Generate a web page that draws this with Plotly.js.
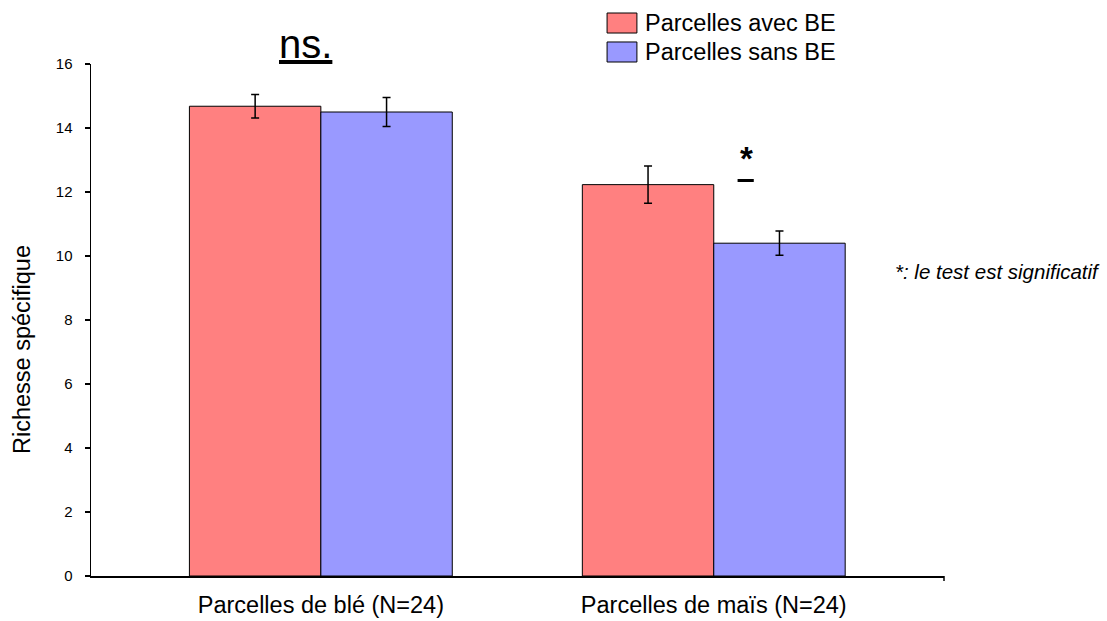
<!DOCTYPE html>
<html>
<head>
<meta charset="utf-8">
<script src="https://cdn.plot.ly/plotly-3.0.1.min.js"></script>
<style>html,body{margin:0;padding:0;background:#fff;}#chart{width:1107px;height:621px;}</style>
</head>
<body>
<div id="chart"></div>
<script>
const categories = ["Parcelles de blé (N=24)", "Parcelles de maïs (N=24)"];
const seriesNames = ["Parcelles avec BE", "Parcelles sans BE"];
const avecBE = [14.68, 12.23];
const avecBEerr = [0.37, 0.58];
const sansBE = [14.50, 10.40];
const sansBEerr = [0.45, 0.38];
const yTicks = [0, 2, 4, 6, 8, 10, 12, 14, 16];
const colors = ["#FF8080", "#9999FF"];

const FONT = "Liberation Sans, Arial, sans-serif";

const traces = [
  {
    type: "bar", name: seriesNames[0], x: categories, y: avecBE,
    marker: {color: colors[0], line: {color: "#000", width: 1}},
    error_y: {type: "data", array: avecBEerr, visible: true, color: "#000", thickness: 1.5, width: 4},
    showlegend: false
  },
  {
    type: "bar", name: seriesNames[1], x: categories, y: sansBE,
    marker: {color: colors[1], line: {color: "#000", width: 1}},
    error_y: {type: "data", array: sansBEerr, visible: true, color: "#000", thickness: 1.5, width: 4},
    showlegend: false
  }
];

const layout = {
  width: 1107, height: 621,
  margin: {l: 91, r: 163, t: 64, b: 45},
  paper_bgcolor: "#fff", plot_bgcolor: "#fff",
  font: {family: FONT, color: "#000"},
  barmode: "group",
  bargap: 0.331, bargroupgap: 0,
  xaxis: {
    type: "category", range: [-0.585, 1.586],
    showline: true, linecolor: "#000", linewidth: 1.5,
    ticks: "", showgrid: false, zeroline: false,
    ticklabelstandoff: 7,
    tickfont: {size: 23.5, family: FONT}
  },
  yaxis: {
    range: [0, 16], tickvals: yTicks, ticktext: yTicks.map(String),
    showline: true, linecolor: "#000", linewidth: 1.5,
    ticks: "outside", ticklen: 5, tickcolor: "#000", tickwidth: 1.5,
    showgrid: false, zeroline: false,
    ticklabelstandoff: 9,
    tickfont: {size: 15, family: FONT}
  },
  shapes: [
    {type: "rect", xref: "paper", yref: "paper", x0: 0.605, x1: 0.640, y0: 1.0605, y1: 1.0996,
     fillcolor: colors[0], line: {color: "#000", width: 1}},
    {type: "rect", xref: "paper", yref: "paper", x0: 0.605, x1: 0.640, y0: 1.0039, y1: 1.043,
     fillcolor: colors[1], line: {color: "#000", width: 1}},
    {type: "line", xref: "paper", yref: "y", x0: 0.758, x1: 0.777, y0: 12.36, y1: 12.36,
     line: {color: "#000", width: 3}},
    {type: "line", xref: "paper", yref: "paper", x0: 1, x1: 1, y0: 0, y1: -0.01,
     line: {color: "#000", width: 1.5}}
  ],
  annotations: [
    {xref: "paper", yref: "paper", x: 0.647, y: 1.080, xanchor: "left", yanchor: "middle",
     text: seriesNames[0], showarrow: false, font: {size: 23.5, family: FONT}},
    {xref: "paper", yref: "paper", x: 0.647, y: 1.0234, xanchor: "left", yanchor: "middle",
     text: seriesNames[1], showarrow: false, font: {size: 23.5, family: FONT}},
    {xref: "paper", yref: "paper", x: 0.252, y: 1.04, xanchor: "center", yanchor: "middle",
     text: "<u>ns.</u>", showarrow: false, font: {size: 40, family: FONT}},
    {xref: "paper", yref: "y", x: 0.7685, y: 13.05, xanchor: "center", yanchor: "middle",
     text: "<b>*</b>", showarrow: false, font: {size: 33, family: FONT}},
    {xref: "paper", yref: "paper", x: 0.940, y: 0.594, xanchor: "left", yanchor: "middle",
     text: "<i>*: le test est significatif</i>", showarrow: false, font: {size: 20.5, family: FONT}},
    {xref: "paper", yref: "paper", x: (22 - 91) / 853, y: (576 - 350) / 512, xanchor: "center", yanchor: "middle",
     textangle: -90, text: "Richesse spécifique", showarrow: false, font: {size: 23.5, family: FONT}}
  ]
};

Plotly.newPlot("chart", traces, layout, {displayModeBar: false, staticPlot: true});
</script>
</body>
</html>
